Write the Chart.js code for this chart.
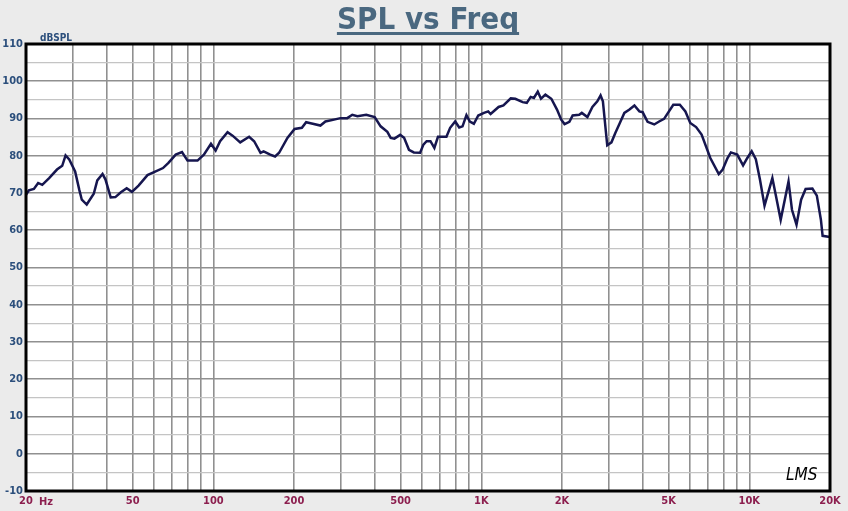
<!DOCTYPE html>
<html>
<head>
<meta charset="utf-8">
<title>SPL vs Freq</title>
<script src="https://cdn.jsdelivr.net/npm/chart.js@4.4.0/dist/chart.umd.min.js"></script>
<style>
    body { margin: 0; background: #ebebeb; }
    #splChart { display: block; }
</style>
</head>
<body>
<canvas id="splChart" width="848" height="511"></canvas>
<script>
/* ===============================
   Data
=============================== */

const freqs = [
    20, 20.5, 21.4, 22.2, 23.0, 24.4, 26.1, 27.3, 28.1, 29.0,
    30.5, 31.6, 32.3, 33.7, 35.8, 36.9, 38.6, 39.6, 41.4, 43.1,
    45.2, 47.5, 49.7, 52.6, 56.8, 60.1, 64.9, 68.0, 72.4, 76.4,
    80.1, 87.3, 92.2, 98.0, 102, 106, 113, 118, 126, 136,
    142, 150, 154, 163, 170, 176, 189, 201, 214, 222,
    235, 251, 262, 282, 298, 316, 330, 345, 372, 400,
    421, 446, 459, 474, 498, 515, 537, 560, 591, 608,
    625, 646, 668, 689, 741, 765, 799, 827, 851, 880,
    906, 938, 974, 1023, 1061, 1083, 1160, 1209, 1288, 1339,
    1426, 1478, 1528, 1571, 1624, 1670, 1734, 1825, 1916, 1987,
    2044, 2131, 2192, 2318, 2371, 2488, 2597, 2709, 2786, 2842,
    2950, 3059, 3162, 3297, 3417, 3571, 3726, 3888, 3999, 4172,
    4417, 4607, 4807, 5203, 5504, 5774, 6020, 6330, 6636, 7152,
    7692, 7954, 8293, 8536, 9014, 9478, 9830, 10206, 10573, 10955,
    11395, 12189, 12561, 13092, 14004, 14426, 15000, 15605, 16219, 17193,
    17860, 18499, 18770, 20000
];

const spl = [
    69.5, 70.7, 71.1, 72.7, 72.2, 74.0, 76.3, 77.3, 80.1, 79.0,
    75.8, 70.9, 68.2, 66.9, 69.8, 73.4, 75.1, 73.6, 68.8, 68.9,
    70.2, 71.3, 70.3, 72.0, 74.8, 75.6, 76.7, 78.1, 80.3, 81.0,
    78.7, 78.7, 80.3, 83.2, 81.4, 83.9, 86.3, 85.4, 83.6, 85.1,
    83.9, 80.8, 81.2, 80.3, 79.8, 80.8, 84.8, 87.2, 87.5, 89.0,
    88.6, 88.1, 89.2, 89.7, 90.1, 90.1, 91.0, 90.6, 91.0, 90.4,
    87.9, 86.4, 84.8, 84.6, 85.6, 84.8, 81.6, 80.9, 80.8, 83.0,
    83.9, 83.9, 82.1, 85.1, 85.1, 87.5, 89.2, 87.6, 87.9, 90.9,
    89.2, 88.6, 90.8, 91.5, 91.9, 91.2, 93.1, 93.5, 95.4, 95.3,
    94.4, 94.2, 95.8, 95.5, 97.2, 95.3, 96.4, 95.3, 92.4, 89.7,
    88.5, 89.1, 90.8, 91.0, 91.5, 90.4, 93.1, 94.6, 96.2, 94.6,
    82.8, 83.6, 86.1, 89.0, 91.5, 92.4, 93.5, 91.9, 91.7, 89.1,
    88.4, 89.2, 89.9, 93.7, 93.7, 91.9, 88.8, 87.7, 85.7, 79.4,
    75.1, 76.3, 79.4, 80.9, 80.3, 77.4, 79.4, 81.2, 79.1, 73.6,
    66.6, 74.0, 69.3, 62.8, 73.1, 65.5, 61.5, 68.2, 71.1, 71.2,
    69.3, 62.8, 58.5, 58.2
];

const xGridFreqs = [
    20, 30, 40, 50, 60, 70, 80, 90,
    100, 200, 300, 400, 500, 600, 700, 800, 900,
    1000, 2000, 3000, 4000, 5000, 6000, 7000, 8000, 9000,
    10000, 20000
];

const xLabels = {
    20: "20", 50: "50", 100: "100", 200: "200", 500: "500",
    1000: "1K", 2000: "2K", 5000: "5K", 10000: "10K", 20000: "20K"
};

const yMin = -10;
const yMax = 110;

/* ===============================
   Styles
=============================== */

const narrow = "'Liberation Sans Narrow', 'DejaVu Sans Condensed', 'Liberation Sans', sans-serif";

/* ===============================
   Frame / text plugin
=============================== */

const framePlugin = {
    id: "frame",
    beforeDraw: function (chart) {
        const ctx = chart.ctx;
        const a = chart.chartArea;
        ctx.save();
        ctx.fillStyle = "#ebebeb";
        ctx.fillRect(0, 0, chart.width, chart.height);
        ctx.fillStyle = "#ffffff";
        ctx.fillRect(a.left, a.top, a.right - a.left, a.bottom - a.top);
        ctx.restore();
    },
    afterDraw: function (chart) {
        const ctx = chart.ctx;
        const a = chart.chartArea;
        ctx.save();

        // plot border
        ctx.strokeStyle = "#000000";
        ctx.lineWidth = 3;
        ctx.strokeRect(a.left, a.top, a.right - a.left, a.bottom - a.top);

        // title with underline
        ctx.fillStyle = "#4a6880";
        ctx.font = "bold 31px " + narrow;
        ctx.textAlign = "center";
        ctx.textBaseline = "alphabetic";
        const title = "SPL vs Freq";
        ctx.fillText(title, 428, 29);
        const w = ctx.measureText(title).width;
        ctx.fillRect(428 - w / 2, 32, w, 3);

        // y unit
        ctx.fillStyle = "#2c4f7c";
        ctx.font = "bold 10px " + narrow;
        ctx.textAlign = "left";
        ctx.fillText("dBSPL", 40, 41);

        // Hz after the 20 label
        ctx.fillStyle = "#8c1f4f";
        ctx.font = "bold 11px " + narrow;
        ctx.textBaseline = "middle";
        ctx.fillText("Hz", 39, 502);

        // LMS mark
        ctx.fillStyle = "#000000";
        ctx.font = "italic 17px 'DejaVu Sans Condensed', sans-serif";
        ctx.textAlign = "left";
        ctx.textBaseline = "alphabetic";
        ctx.fillText("LMS", 786, 480);

        ctx.restore();
    }
};

/* ===============================
   SPL Chart
=============================== */

const splCanvas = document.getElementById("splChart");

new Chart(splCanvas, {

    type: "line",

    data: {
        datasets: [
            {
                data: freqs.map(function (f, i) {
                    return { x: f, y: spl[i] };
                }),
                borderColor: "#16164f",
                borderWidth: 2.5,
                pointRadius: 0,
                tension: 0,
                fill: false
            }
        ]
    },

    options: {
        responsive: false,
        animation: false,
        layout: {
            padding: { top: 44, right: 18, left: 0, bottom: 0 }
        },
        plugins: {
            legend: { display: false },
            tooltip: { enabled: false }
        },
        scales: {
            x: {
                type: "logarithmic",
                min: 20,
                max: 20000,
                afterBuildTicks: function (scale) {
                    scale.ticks = xGridFreqs.map(function (v) {
                        return { value: v };
                    });
                },
                afterFit: function (scale) {
                    scale.height = 20;
                },
                grid: {
                    color: "#909090",
                    lineWidth: 1.6,
                    drawTicks: false
                },
                border: { display: false },
                ticks: {
                    autoSkip: false,
                    maxRotation: 0,
                    padding: 4,
                    color: "#8c1f4f",
                    font: { family: narrow, size: 11, weight: "bold" },
                    callback: function (value) {
                        return xLabels[value] || "";
                    }
                }
            },
            y: {
                min: yMin,
                max: yMax,
                afterFit: function (scale) {
                    scale.width = 26;
                },
                grid: {
                    color: function (c) {
                        return c.tick.value % 10 === 0 ? "#909090" : "#c4c4c4";
                    },
                    lineWidth: function (c) {
                        return c.tick.value % 10 === 0 ? 1.6 : 1.3;
                    },
                    drawTicks: false
                },
                border: { display: false },
                ticks: {
                    stepSize: 5,
                    padding: 3,
                    color: "#2c4f7c",
                    font: { family: narrow, size: 11, weight: "bold" },
                    callback: function (value) {
                        return value % 10 === 0 ? value : "";
                    }
                }
            }
        }
    },

    plugins: [framePlugin]

});
</script>
</body>
</html>
